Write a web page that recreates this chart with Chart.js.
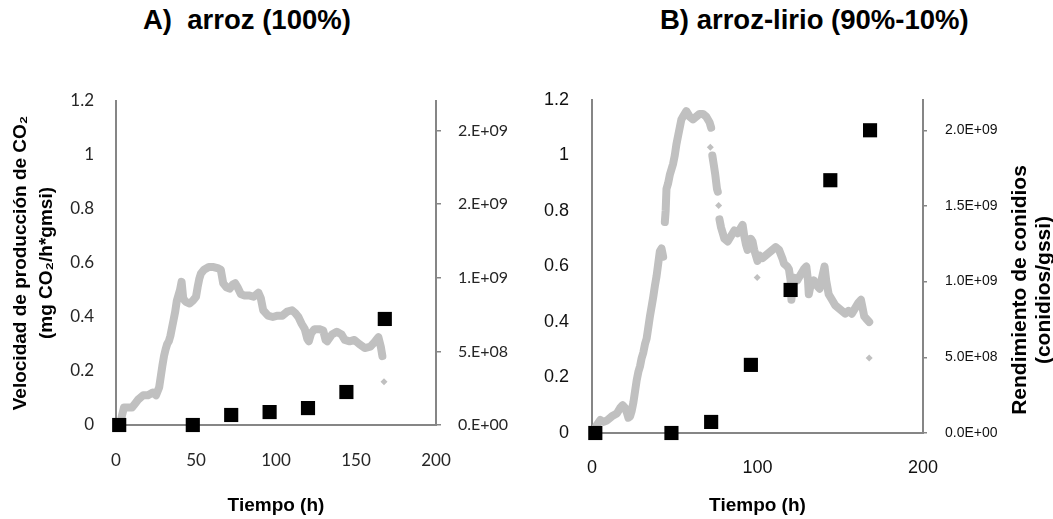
<!DOCTYPE html>
<html>
<head>
<meta charset="utf-8">
<script src="https://cdn.jsdelivr.net/npm/chart.js@4.4.1/dist/chart.umd.min.js"></script>
<style>
  body { margin: 0; background: #fff; width: 1053px; height: 519px; overflow: hidden; position: relative;
         font-family: "Liberation Sans", Arial, sans-serif; }
  .titulo { position: absolute; top: 4px; font-weight: bold; font-size: 27.5px; white-space: nowrap; color: #000; }
  #cajaA { position: absolute; left: 0; top: 0; width: 540px; height: 519px; }
  #cajaB { position: absolute; left: 540px; top: 0; width: 513px; height: 519px; }
  #ejeConidios { position: absolute; left: 871px; top: 266px; width: 320px; height: 48px; line-height: 24px;
                 text-align: center; font-weight: bold; font-size: 21px; transform: rotate(-90deg); color: #000; }
</style>
</head>
<body>
<div class="titulo" style="left:143px">A)&nbsp; arroz (100%)</div>
<div class="titulo" style="left:660px">B) arroz-lirio (90%-10%)</div>
<div id="cajaA"><canvas id="graficaA"></canvas></div>
<div id="cajaB"><canvas id="graficaB"></canvas></div>
<div id="ejeConidios">Rendimiento de conidios<br>(conidios/gssi)</div>

<script>
// ---------------------------------------------
// DATOS
// ---------------------------------------------

// A) arroz 100% - velocidad de producción de CO2
const tiempoA = [3.5, 5, 7, 10, 12, 14, 17, 20, 23, 25,
                 27, 28, 29, 30, 31, 32, 33, 34, 35, 36,
                 37, 38, 39, 40, 41, 42, 43, 44, 46, 48,
                 50, 51, 52, 53, 55, 58, 61, 64, 65.5, 67,
                 69, 71, 73, 74.5, 76, 78, 80, 83, 86, 89,
                 90.5, 92, 95, 98, 101, 104, 107, 110, 112, 114,
                 116, 118, 119.5, 120.5, 122, 124, 127, 129.5, 131, 132,
                 135, 138, 141, 143, 146, 149, 152, 155.5, 159, 162,
                 164, 165.5, 166.5];
const co2A = [0.03, 0.065, 0.065, 0.065, 0.08, 0.095, 0.11, 0.11, 0.12, 0.11,
              0.14, 0.18, 0.22, 0.255, 0.28, 0.30, 0.31, 0.33, 0.36, 0.39,
              0.42, 0.46, 0.48, 0.50, 0.53, 0.47, 0.46, 0.455, 0.45, 0.46,
              0.475, 0.51, 0.54, 0.56, 0.575, 0.585, 0.585, 0.58, 0.575, 0.525,
              0.51, 0.505, 0.52, 0.525, 0.51, 0.485, 0.48, 0.48, 0.475, 0.49,
              0.47, 0.425, 0.405, 0.40, 0.405, 0.405, 0.42, 0.425, 0.415, 0.40,
              0.375, 0.355, 0.32, 0.31, 0.34, 0.355, 0.355, 0.35, 0.315, 0.31,
              0.335, 0.345, 0.335, 0.315, 0.31, 0.315, 0.30, 0.285, 0.29, 0.31,
              0.325, 0.29, 0.255];
const sueltosTiempoA = [167.5];
const sueltosCo2A = [0.16];

// B) arroz-lirio 90%-10% (null = hueco en la curva)
const tiempoB = [1, 3, 5, 7, 9, 12, 15, 17, 18.5, 20,
                 21, 22, 23, 24, 25, 26, 27, 28, 29, 30,
                 31, 32, 33, 34, 35, 36, 37, 38, 39, 40,
                 41, 42, 43, 43.5, 44, 44.5, 45, 46, 47, 48,
                 49, 50, 51, 52, 53, 54, 55, 56, 57, 59,
                 61, 63, 65, 67, 69, 71, 72, 72.3, 72.7, 73.5,
                 74.5, 75.5, 76, 76.3, 77, 78, 79, 80, 82, 84,
                 86, 88, 90, 91, 92, 93, 94, 95, 96, 97,
                 98, 99, 100, 101, 103, 105, 107, 109, 111, 113,
                 115, 116, 118, 119, 120, 120.5, 121, 122, 124, 126,
                 128, 129.5, 130.5, 131, 132, 134, 136, 137.5, 139, 140.5,
                 141.5, 143, 145, 147, 149, 151, 153, 155, 157, 159,
                 161, 162.5, 163.5, 164.5, 166, 167.5];
const co2B = [0.005, 0.03, 0.047, 0.04, 0.045, 0.06, 0.07, 0.09, 0.10, 0.09,
              0.075, 0.055, 0.06, 0.08, 0.11, 0.15, 0.19, 0.22, 0.24, 0.27,
              0.29, 0.32, 0.34, 0.38, 0.42, 0.455, 0.49, 0.53, 0.565, 0.61,
              0.655, 0.665, 0.635, null, 0.76, 0.80, 0.88, 0.90, 0.93, 0.95,
              0.97, 1.00, 1.04, 1.07, 1.10, 1.13, 1.14, 1.15, 1.16, 1.14,
              1.13, 1.14, 1.15, 1.15, 1.14, 1.12, 1.10, null, 1.00, 0.97,
              0.93, 0.88, 0.87, null, 0.77, 0.74, 0.72, 0.70, 0.69, 0.71,
              0.73, 0.72, 0.74, 0.75, 0.71, 0.68, 0.66, 0.68, 0.70, 0.69,
              0.66, 0.64, 0.62, 0.64, 0.63, 0.64, 0.65, 0.66, 0.67, 0.66,
              0.63, 0.61, 0.60, 0.59, 0.55, 0.48, 0.52, 0.56, 0.55, 0.57,
              0.59, 0.60, 0.55, 0.50, 0.53, 0.55, 0.53, 0.52, 0.56, 0.60,
              0.55, 0.50, 0.48, 0.46, 0.45, 0.44, 0.43, 0.44, 0.43, 0.45,
              0.47, 0.48, 0.45, 0.42, 0.41, 0.40];
const sueltosTiempoB = [71.5, 76.5, 99.8, 167.5];
const sueltosCo2B = [1.03, 0.82, 0.56, 0.27];

// Rendimiento de conidios (cuadros negros)
const tiempoConidios = [2, 48, 72, 96, 120, 144, 168];
const conidiosA = [0, 0, 6.8e7, 8.8e7, 1.15e8, 2.24e8, 7.2e8];
const conidiosB = [0, 0, 7.3e7, 4.5e8, 9.45e8, 1.67e9, 2.0e9];

// Marcas de los ejes
const valoresCo2 = [0, 0.2, 0.4, 0.6, 0.8, 1.0, 1.2];
const etiquetasCo2 = ["0", "0.2", "0.4", "0.6", "0.8", "1", "1.2"];
const valoresConidios = [0, 5e8, 1e9, 1.5e9, 2e9];
const etiquetasConidiosA = ["0.E+00", "5.E+08", "1.E+09", "2.E+09", "2.E+09"];
const etiquetasConidiosB = ["0.0E+00", "5.0E+08", "1.0E+09", "1.5E+09", "2.0E+09"];

// ---------------------------------------------
// AYUDAS
// ---------------------------------------------
const GRIS = "#c0c0c0";
const EJE = "#868686";

function pares(xs, ys) {
    return xs.map((t, i) => ({ x: t, y: ys[i] }));
}

function fijarTicks(valores) {
    return scale => { scale.ticks = valores.map(v => ({ value: v })); };
}

function datasets(tiempos, co2, sTiempos, sCo2, conidios) {
    return [
        {   // cuadros negros (eje derecho)
            data: pares(tiempoConidios, conidios),
            yAxisID: "y1",
            pointStyle: "rect",
            pointRadius: 10,
            backgroundColor: "#000",
            borderColor: "#000",
            borderWidth: 0,
            showLine: false,
            clip: false
        },
        {   // puntos sueltos
            data: pares(sTiempos, sCo2),
            yAxisID: "y",
            pointStyle: "rectRot",
            pointRadius: 3.5,
            backgroundColor: GRIS,
            borderWidth: 0,
            showLine: false
        },
        {   // curva de CO2
            data: pares(tiempos, co2),
            yAxisID: "y",
            showLine: true,
            spanGaps: false,
            borderColor: GRIS,
            borderWidth: 8,
            borderJoinStyle: "round",
            borderCapStyle: "round",
            pointRadius: 0,
            tension: 0,
            clip: 6
        }
    ];
}

// ---------------------------------------------
// GRÁFICA A
// ---------------------------------------------
new Chart(document.getElementById("graficaA"), {
    type: "scatter",
    data: { datasets: datasets(tiempoA, co2A, sueltosTiempoA, sueltosCo2A, conidiosA) },
    options: {
        responsive: true,
        maintainAspectRatio: false,
        animation: false,
        layout: { padding: { top: 101, left: 0, right: 0, bottom: 0 } },
        plugins: { legend: { display: false }, tooltip: { enabled: false } },
        scales: {
            x: {
                type: "linear", min: 0, max: 200,
                afterFit: s => { s.height = 94; },
                border: { display: true, color: EJE, width: 2 },
                grid: { drawOnChartArea: false, drawTicks: false },
                ticks: { stepSize: 50, padding: 25, color: "#262626", font: { family: "Lato", size: 17 } },
                title: { display: true, text: "Tiempo (h)", color: "#000",
                         font: { family: "Liberation Sans", size: 19, weight: "bold", lineHeight: 1.2 },
                         padding: { top: 0, bottom: 2 } }
            },
            y: {
                position: "left", min: 0, max: 1.2,
                afterFit: s => { s.width = 116; },
                afterBuildTicks: fijarTicks(valoresCo2),
                border: { display: true, color: EJE, width: 2 },
                grid: { drawOnChartArea: false, drawTicks: false },
                ticks: { padding: 22, color: "#262626", font: { family: "Lato", size: 17 },
                         callback: (v, i) => etiquetasCo2[i] },
                title: { display: true, text: ["Velocidad de producción de CO₂", "(mg CO₂/h*gmsi)"], color: "#000",
                         font: { family: "Liberation Sans", size: 19, weight: "bold", lineHeight: 1.37 },
                         padding: { top: 8, bottom: 0 } }
            },
            y1: {
                position: "right", min: 0, max: 2.2e9,
                afterFit: s => { s.width = 104; },
                afterBuildTicks: fijarTicks(valoresConidios),
                border: { display: true, color: EJE, width: 2 },
                grid: { drawOnChartArea: false, drawTicks: true, tickLength: 5, color: EJE, lineWidth: 1.5 },
                ticks: { padding: 17, color: "#262626", font: { family: "Lato", size: 16 },
                         callback: (v, i) => etiquetasConidiosA[i] }
            }
        }
    }
});

// ---------------------------------------------
// GRÁFICA B
// ---------------------------------------------
new Chart(document.getElementById("graficaB"), {
    type: "scatter",
    data: { datasets: datasets(tiempoB, co2B, sueltosTiempoB, sueltosCo2B, conidiosB) },
    options: {
        responsive: true,
        maintainAspectRatio: false,
        animation: false,
        layout: { padding: { top: 100, left: 0, right: 0, bottom: 0 } },
        plugins: { legend: { display: false }, tooltip: { enabled: false } },
        scales: {
            x: {
                type: "linear", min: 0, max: 200,
                afterFit: s => { s.height = 86; },
                border: { display: true, color: EJE, width: 2 },
                grid: { drawOnChartArea: false, drawTicks: false },
                ticks: { stepSize: 100, padding: 24, color: "#111", font: { family: "Liberation Sans", size: 18 } },
                title: { display: true, text: "Tiempo (h)", color: "#000",
                         font: { family: "Liberation Sans", size: 19, weight: "bold", lineHeight: 1.2 },
                         padding: { top: 0, bottom: 2 } }
            },
            y: {
                position: "left", min: 0, max: 1.2,
                afterFit: s => { s.width = 52; },
                afterBuildTicks: fijarTicks(valoresCo2),
                border: { display: true, color: EJE, width: 2 },
                grid: { drawOnChartArea: false, drawTicks: false },
                ticks: { padding: 23, color: "#111", font: { family: "Liberation Sans", size: 18 },
                         callback: (v, i) => etiquetasCo2[i] }
            },
            y1: {
                position: "right", min: 0, max: 2.2e9,
                afterFit: s => { s.width = 130; },
                afterBuildTicks: fijarTicks(valoresConidios),
                border: { display: true, color: EJE, width: 2 },
                grid: { drawOnChartArea: false, drawTicks: true, tickLength: 4, color: EJE, lineWidth: 1.5 },
                ticks: { padding: 18, color: "#111", font: { family: "Liberation Sans", size: 14 },
                         callback: (v, i) => etiquetasConidiosB[i] }
            }
        }
    }
});
</script>
</body>
</html>
